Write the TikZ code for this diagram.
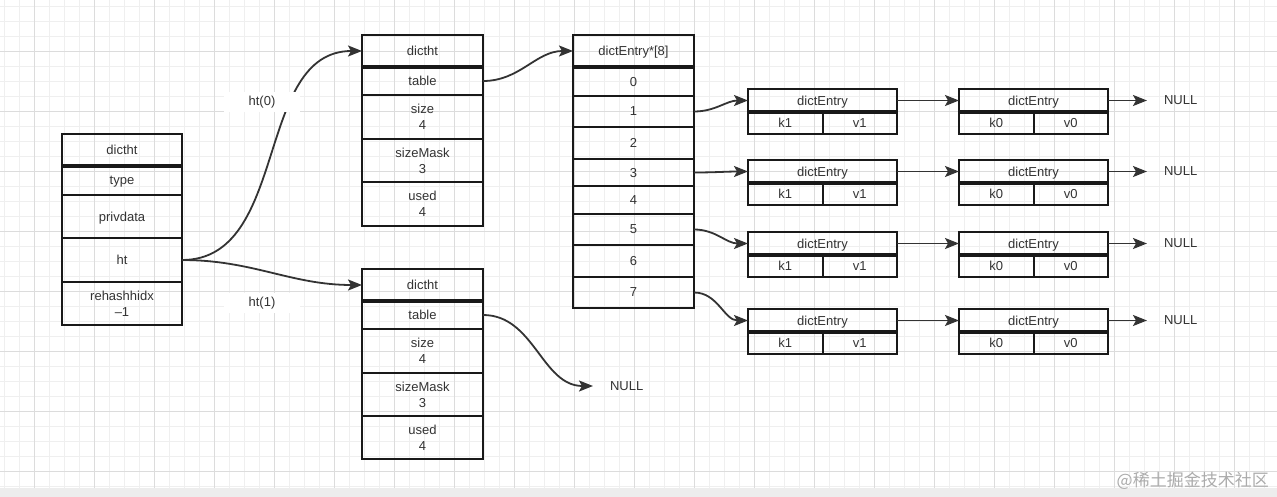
\documentclass[tikz,border=0pt]{standalone}
\usepackage{fontspec}
\setmainfont{Liberation Sans}
\newfontfamily\cjkfont{Noto Sans CJK SC}
\usepackage{xcolor}
\usepackage{tikz}
\usetikzlibrary{arrows.meta,positioning}

\definecolor{gridminor}{HTML}{EFEFEF}
\definecolor{gridmajor}{HTML}{DCDCDC}
\definecolor{textgray}{HTML}{333333}
\definecolor{linegray}{HTML}{333333}

\begin{document}
\begin{tikzpicture}[
    x=1pt, y=-1pt,
    cell/.style={draw=black!90, line width=2pt, outer sep=0pt, inner sep=0pt, align=center, text depth=0pt, text=textgray, font=\fontsize{13}{16}\selectfont},
    dictcell/.style={cell, minimum width=120pt},
    htcell/.style={cell, minimum width=121pt},
    entryhead/.style={cell, minimum width=149pt, minimum height=23pt},
    entryhalf/.style={cell, minimum width=74.5pt, minimum height=22pt},
    headline/.style={draw=black!90, line width=3.2pt},
    link/.style={-{Stealth[length=14pt,width=11pt,inset=3pt]}, draw=linegray, line width=1.8pt},
    nullnode/.style={inner xsep=17pt, inner ysep=0pt, outer sep=0pt, text=textgray, font=\fontsize{13}{16}\selectfont},
    ptrlabel/.style={fill=white, minimum width=76pt, minimum height=20pt, inner sep=0pt, text=textgray, font=\fontsize{13}{16}\selectfont}
]
    \useasboundingbox (0,0) rectangle (1277,497);

    % Background grid
    \fill[white] (0,0) rectangle (1277,488);
    \fill[gray!14] (0,488) rectangle (1277,497);
    \foreach \gx in {4,19,...,1274} \draw[gridminor, line width=0.7pt] (\gx,0) -- (\gx,488);
    \foreach \gy in {6.7,21.7,...,487} \draw[gridminor, line width=0.7pt] (0,\gy) -- (1277,\gy);
    \foreach \gx in {34,94,...,1234} \draw[gridmajor, line width=0.7pt] (\gx,0) -- (\gx,488);
    \foreach \gy in {51.7,111.7,...,472} \draw[gridmajor, line width=0.7pt] (0,\gy) -- (1277,\gy);

    % dict
    \node[dictcell, minimum height=32pt] (d_head) at (122,150) {dictht};
    \node[dictcell, minimum height=29pt, below=0pt of d_head] (d_type) {type};
    \node[dictcell, minimum height=43pt, below=0pt of d_type] (d_priv) {privdata};
    \node[dictcell, minimum height=44pt, below=0pt of d_priv] (d_ht) {ht};
    \node[dictcell, minimum height=43pt, below=0pt of d_ht] (d_rehash) {rehashhidx\\–1};

    % ht[0]
    \node[htcell, minimum height=32pt] (h0_head) at (422.5,51) {dictht};
    \node[htcell, minimum height=28pt, below=0pt of h0_head] (h0_table) {table};
    \node[htcell, minimum height=44pt, below=0pt of h0_table] (h0_size) {size\\4};
    \node[htcell, minimum height=43pt, below=0pt of h0_size] (h0_mask) {sizeMask\\3};
    \node[htcell, minimum height=44pt, below=0pt of h0_mask] (h0_used) {used\\4};

    % ht[1]
    \node[htcell, minimum height=32pt] (h1_head) at (422.5,285) {dictht};
    \node[htcell, minimum height=28pt, below=0pt of h1_head] (h1_table) {table};
    \node[htcell, minimum height=44pt, below=0pt of h1_table] (h1_size) {size\\4};
    \node[htcell, minimum height=43pt, below=0pt of h1_size] (h1_mask) {sizeMask\\3};
    \node[htcell, minimum height=43pt, below=0pt of h1_mask] (h1_used) {used\\4};
    \node[nullnode, anchor=west] (null0) at (593,386) {NULL};

    % table array
    \node[htcell, minimum height=32pt] (a_head) at (633.5,51) {dictEntry*[8]};
    \node[htcell, minimum height=29pt, below=0pt of a_head] (s0) {0};
    \node[htcell, minimum height=31pt, below=0pt of s0] (s1) {1};
    \node[htcell, minimum height=32pt, below=0pt of s1] (s2) {2};
    \node[htcell, minimum height=27pt, below=0pt of s2] (s3) {3};
    \node[htcell, minimum height=28pt, below=0pt of s3] (s4) {4};
    \node[htcell, minimum height=31pt, below=0pt of s4] (s5) {5};
    \node[htcell, minimum height=32pt, below=0pt of s5] (s6) {6};
    \node[htcell, minimum height=31pt, below=0pt of s6] (s7) {7};

    % entries, first column
    \node[entryhead] (ea1_head) at (822.5,100.5) {dictEntry};
    \node[entryhalf, anchor=north west] (ea1_k) at (ea1_head.south west) {k1};
    \node[entryhalf, anchor=north east] (ea1_v) at (ea1_head.south east) {v1};
    \node[entryhead] (ea2_head) at (822.5,171.5) {dictEntry};
    \node[entryhalf, anchor=north west] (ea2_k) at (ea2_head.south west) {k1};
    \node[entryhalf, anchor=north east] (ea2_v) at (ea2_head.south east) {v1};
    \node[entryhead] (ea3_head) at (822.5,243.5) {dictEntry};
    \node[entryhalf, anchor=north west] (ea3_k) at (ea3_head.south west) {k1};
    \node[entryhalf, anchor=north east] (ea3_v) at (ea3_head.south east) {v1};
    \node[entryhead] (ea4_head) at (822.5,320.5) {dictEntry};
    \node[entryhalf, anchor=north west] (ea4_k) at (ea4_head.south west) {k1};
    \node[entryhalf, anchor=north east] (ea4_v) at (ea4_head.south east) {v1};

    % entries, second column
    \node[entryhead] (eb1_head) at (1033.5,100.5) {dictEntry};
    \node[entryhalf, anchor=north west] (eb1_k) at (eb1_head.south west) {k0};
    \node[entryhalf, anchor=north east] (eb1_v) at (eb1_head.south east) {v0};
    \node[entryhead] (eb2_head) at (1033.5,171.5) {dictEntry};
    \node[entryhalf, anchor=north west] (eb2_k) at (eb2_head.south west) {k0};
    \node[entryhalf, anchor=north east] (eb2_v) at (eb2_head.south east) {v0};
    \node[entryhead] (eb3_head) at (1033.5,243.5) {dictEntry};
    \node[entryhalf, anchor=north west] (eb3_k) at (eb3_head.south west) {k0};
    \node[entryhalf, anchor=north east] (eb3_v) at (eb3_head.south east) {v0};
    \node[entryhead] (eb4_head) at (1033.5,320.5) {dictEntry};
    \node[entryhalf, anchor=north west] (eb4_k) at (eb4_head.south west) {k0};
    \node[entryhalf, anchor=north east] (eb4_v) at (eb4_head.south east) {v0};

    % NULL ends
    \node[nullnode, right=39pt of eb1_head] (null1) {NULL};
    \node[nullnode, right=39pt of eb2_head] (null2) {NULL};
    \node[nullnode, right=39pt of eb3_head] (null3) {NULL};
    \node[nullnode, right=39pt of eb4_head] (null4) {NULL};

    % thick header lines
    \foreach \hd in {d_head,h0_head,h1_head,a_head,ea1_head,ea2_head,ea3_head,ea4_head,eb1_head,eb2_head,eb3_head,eb4_head}
        \draw[headline] (\hd.south west) -- (\hd.south east);

    % Arrows
    \draw[link] (d_ht.east) to[out=0,in=180] (h0_head.west);
    \draw[link] (d_ht.east) to[out=0,in=180] (h1_head.west);
    \node[ptrlabel] (lbl_ht0) at (262,102) {ht(0)};
    \node[ptrlabel] (lbl_ht1) at (262,303) {ht(1)};
    \draw[link] (h0_table.east) to[out=0,in=180] (a_head.west);
    \draw[link] (h1_table.east) to[out=0,in=180] (null0.west);
    \draw[link] (s1.east) to[out=0,in=180] (ea1_head.west);
    \draw[link] (s3.east) to[out=0,in=180] (ea2_head.west);
    \draw[link] (s5.east) to[out=0,in=180] (ea3_head.west);
    \draw[link] (s7.east) to[out=0,in=180] (ea4_head.west);
    \draw[link] (ea1_head.east) -- (eb1_head.west);
    \draw[link] (ea2_head.east) -- (eb2_head.west);
    \draw[link] (ea3_head.east) -- (eb3_head.west);
    \draw[link] (ea4_head.east) -- (eb4_head.west);
    \draw[link] (eb1_head.east) -- (null1.west);
    \draw[link] (eb2_head.east) -- (null2.west);
    \draw[link] (eb3_head.east) -- (null3.west);
    \draw[link] (eb4_head.east) -- (null4.west);

    % watermark
    \node[anchor=east, inner sep=0pt, text=gray!65, font=\cjkfont\fontsize{17}{20}\selectfont] (mark) at (1269,481) {@稀土掘金技术社区};

\end{tikzpicture}
\end{document}
